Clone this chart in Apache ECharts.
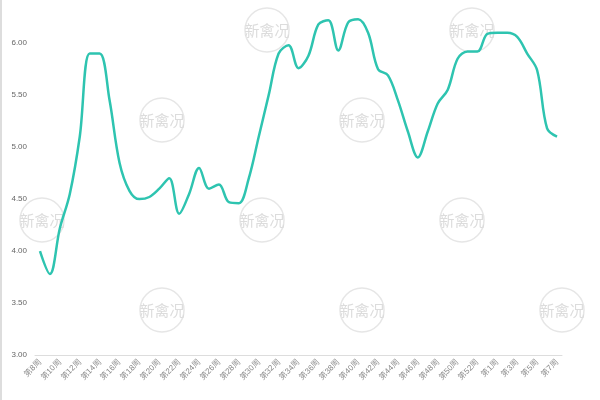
<!DOCTYPE html>
<html><head><meta charset="utf-8">
<script src="https://cdn.jsdelivr.net/npm/echarts@6/dist/echarts.min.js"></script>
<style>html,body{margin:0;padding:0;background:#fff}#main{width:600px;height:400px;box-sizing:border-box;border-left:2px solid #ddd}</style>
</head><body><div id="main"></div>
<script>
// 周次
const weeks = [];
for (let w = 8; w <= 53; w++) weeks.push('第' + w + '周');
for (let w = 1; w <= 7; w++) weeks.push('第' + w + '周');
// 数值
const values = [4.0, 3.78, 4.22, 4.55, 5.1, 5.9, 5.9, 5.45, 4.85, 4.58,
  4.5, 4.52, 4.6, 4.7, 4.36, 4.55, 4.8, 4.6, 4.64, 4.47,
  4.46, 4.7, 5.1, 5.5, 5.9, 5.98, 5.76, 5.88, 6.18, 6.22,
  5.93, 6.2, 6.23, 6.1, 5.75, 5.69, 5.45, 5.15, 4.9, 5.15,
  5.42, 5.55, 5.85, 5.92, 5.92, 6.09, 6.1, 6.1, 6.06, 5.9,
  5.74, 5.18, 5.1];
const marks = [[265, 30], [160, 120], [40, 220], [260, 220], [160, 310], [360, 310], [470, 30], [360, 120], [460, 220], [560, 310]];

const myChart = echarts.init(document.getElementById('main'));
myChart.setOption({
  grid: { left: 33, right: 38, top: 12, bottom: 45 },
  graphic: marks.map(([x, y]) => ({
    type: 'group', x: x, y: y, z: -1,
    children: [
      { type: 'circle', shape: { cx: 0, cy: 0, r: 22 }, style: { fill: 'none', stroke: '#e6e6e6', lineWidth: 1.5 } },
      { type: 'text', style: { text: '新禽况', x: 0, y: 0, align: 'center', verticalAlign: 'middle', fill: '#dcdcdc', font: '15px "Noto Sans CJK SC"' } }
    ]
  })),
  xAxis: {
    type: 'category', data: weeks, boundaryGap: true,
    axisLine: { lineStyle: { color: '#ddd' } },
    axisTick: { lineStyle: { color: '#ddd' } },
    axisLabel: { interval: 1, rotate: 45, fontSize: 8, color: '#888', margin: 6 }
  },
  yAxis: {
    type: 'value', min: 3, max: 6.3, interval: 0.5,
    axisLine: { show: false }, axisTick: { show: false }, splitLine: { show: false },
    axisLabel: { showMaxLabel: false, fontSize: 8, color: '#666', formatter: v => v.toFixed(2) }
  },
  series: [{
    type: 'line', data: values, smooth: 0.35, symbol: 'none',
    lineStyle: { color: '#2ec4b0', width: 2.5 }
  }]
});
</script></body></html>
